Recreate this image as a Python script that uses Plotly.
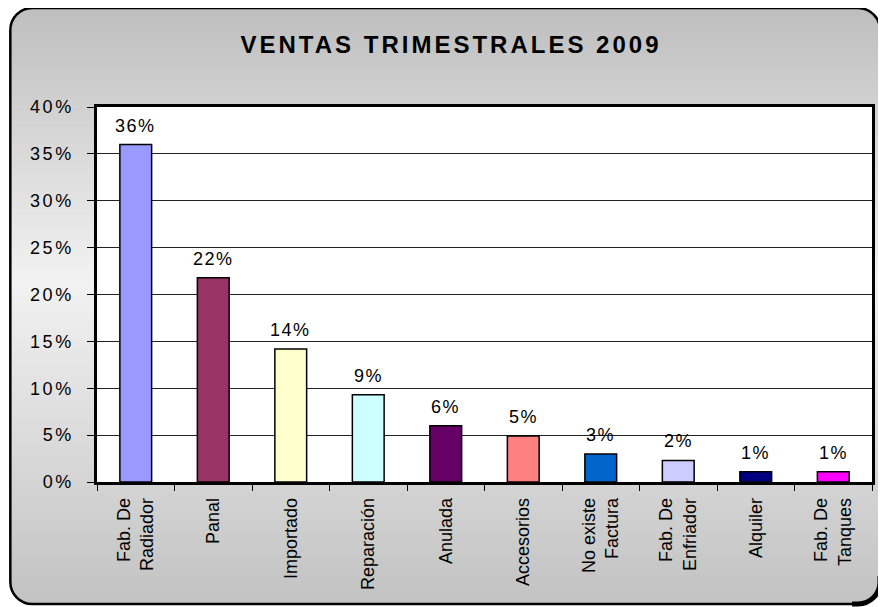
import base64
import math
import struct
import zlib

import plotly.graph_objects as go

categories = ["Fab. De<br>Radiador", "Panal", "Importado", "Reparación", "Anulada",
              "Accesorios", "No existe<br>Factura", "Fab. De<br>Enfriador", "Alquiler",
              "Fab. De<br>Tanques"]
values = [36.0, 21.8, 14.2, 9.3, 6.0, 4.9, 3.0, 2.3, 1.1, 1.1]
labels = ["36%", "22%", "14%", "9%", "6%", "5%", "3%", "2%", "1%", "1%"]
bar_colors = ["#9999FF", "#993366", "#FFFFCC", "#CCFFFF", "#660066",
              "#FF8080", "#0066CC", "#CCCCFF", "#000080", "#FF00FF"]
y_ticks = [0, 5, 10, 15, 20, 25, 30, 35, 40]
title_text = "VENTAS TRIMESTRALES 2009"

OFF = 8  # page body margin
W, H = 886 - OFF, 607 - OFF
L, R, T, B = 97 - OFF, 875 - OFF, 107 - OFF, 482 - OFF  # plot area in figure pixels


def px(x):
    return (x - OFF - L) / (R - L)


def py(y):
    return (B - (y - OFF)) / (B - T)


# rounded frame (page pixel coords)
fx0, fx1, fy0, fy1, rad = 10, 883, 8, 604, 22
K = 0.5523 * rad


def frame_path():
    pts = [
        f"M {px(fx0 + rad)},{py(fy0)}",
        f"L {px(fx1 - rad)},{py(fy0)}",
        f"C {px(fx1 - rad + K)},{py(fy0)} {px(fx1)},{py(fy0 + rad - K)} {px(fx1)},{py(fy0 + rad)}",
        f"L {px(fx1)},{py(fy1 - rad)}",
        f"C {px(fx1)},{py(fy1 - rad + K)} {px(fx1 - rad + K)},{py(fy1)} {px(fx1 - rad)},{py(fy1)}",
        f"L {px(fx0 + rad)},{py(fy1)}",
        f"C {px(fx0 + rad - K)},{py(fy1)} {px(fx0)},{py(fy1 - rad + K)} {px(fx0)},{py(fy1 - rad)}",
        f"L {px(fx0)},{py(fy0 + rad)}",
        f"C {px(fx0)},{py(fy0 + rad - K)} {px(fx0 + rad - K)},{py(fy0)} {px(fx0 + rad)},{py(fy0)}",
        "Z",
    ]
    return " ".join(pts)


def corner_shadow_path():
    return " ".join([
        f"M {px(fx1)},{py(fy1 - rad - 6)}",
        f"L {px(fx1)},{py(fy1 - rad)}",
        f"C {px(fx1)},{py(fy1 - rad + K)} {px(fx1 - rad + K)},{py(fy1)} {px(fx1 - rad)},{py(fy1)}",
        f"L {px(fx1 - rad - 6)},{py(fy1)}",
    ])


def gradient_png():
    # vertical grey gradient inside the rounded frame, transparent outside
    w, h = W, H
    raw = bytearray()
    for yy in range(h):
        y = yy + OFF
        if y < 280:
            g = 190 + (242 - 190) * max(0.0, (y - fy0)) / (280 - fy0)
        else:
            g = 242 - (242 - 194) * min(1.0, (y - 280) / (fy1 - 280))
        g = int(round(g))
        if y < fy0 or y > fy1:
            x0, x1 = 1, 0
        else:
            dy = 0
            if y < fy0 + rad:
                dy = fy0 + rad - y
            elif y > fy1 - rad:
                dy = y - (fy1 - rad)
            inset = rad - math.sqrt(max(0.0, rad * rad - dy * dy))
            x0, x1 = fx0 + inset, fx1 - inset
        raw.append(0)
        row = bytearray()
        for xx in range(w):
            x = xx + OFF
            if x0 <= x <= x1:
                row += bytes((g, g, g, 255))
            else:
                row += b"\x00\x00\x00\x00"
        raw += row

    def chunk(tag, data):
        c = struct.pack(">I", len(data)) + tag + data
        return c + struct.pack(">I", zlib.crc32(tag + data) & 0xFFFFFFFF)

    png = b"\x89PNG\r\n\x1a\n"
    png += chunk(b"IHDR", struct.pack(">IIBBBBB", w, h, 8, 6, 0, 0, 0))
    png += chunk(b"IDAT", zlib.compress(bytes(raw), 9))
    png += chunk(b"IEND", b"")
    return "data:image/png;base64," + base64.b64encode(png).decode()


FONT = "Liberation Sans, Arial, sans-serif"


def spaced(s, sp):
    return f"<span style='letter-spacing:{sp}px'>{s}</span>"


fig = go.Figure(go.Bar(
    x=categories,
    y=values,
    marker=dict(color=bar_colors, line=dict(color="black", width=1.5)),
    width=0.41,
))

annotations = [
    dict(x=c, y=v, text=spaced(t, 1.5), showarrow=False, xref="x", yref="y",
         yanchor="bottom", yshift=7,
         font=dict(family=FONT, size=18, color="black"))
    for c, v, t in zip(categories, values, labels)
]

fig.update_layout(
    width=W, height=H,
    margin=dict(l=L, r=W - R, t=T, b=H - B),
    paper_bgcolor="white",
    plot_bgcolor="white",
    showlegend=False,
    font=dict(family=FONT, size=18, color="black"),
    title=dict(text=spaced(f"<b>{title_text}</b>", 3), x=(451 - OFF) / W,
               y=1 - (45 - OFF) / H, xanchor="center", yanchor="middle",
               font=dict(family=FONT, size=24, color="black")),
    annotations=annotations,
    images=[dict(source=gradient_png(), xref="paper", yref="paper",
                 x=-L / (R - L), y=1 + T / (B - T),
                 sizex=W / (R - L), sizey=H / (B - T),
                 xanchor="left", yanchor="top", sizing="stretch", layer="below")],
    shapes=[
        dict(type="path", path=frame_path(), xref="paper", yref="paper",
             fillcolor="rgba(0,0,0,0)", line=dict(color="black", width=2.5), layer="below"),
        dict(type="path", path=corner_shadow_path(), xref="paper", yref="paper",
             line=dict(color="black", width=5), layer="below"),
        dict(type="rect", xref="x domain", yref="y domain", x0=0, x1=1, y0=0, y1=1,
             fillcolor="white", line=dict(width=0), layer="below"),
    ],
)

fig.update_xaxes(
    type="category",
    tickangle=-90,
    tickson="boundaries",
    ticks="outside", ticklen=6, tickcolor="black", tickwidth=1,
    ticklabelstandoff=6,
    showline=True, linecolor="black", linewidth=2.5, mirror=True,
    showgrid=False,
    tickfont=dict(family=FONT, size=18, color="black"),
)

fig.update_yaxes(
    range=[0, 40],
    tickvals=y_ticks,
    ticktext=[spaced(f"{v}%", 2.5) for v in y_ticks],
    ticks="outside", ticklen=7, tickcolor="black", tickwidth=1,
    ticklabelstandoff=10,
    showline=True, linecolor="black", linewidth=2.5, mirror=True,
    showgrid=True, gridcolor="#222222", gridwidth=1,
    zeroline=False,
    tickfont=dict(family=FONT, size=18, color="black"),
)

fig.write_html("out.html")
